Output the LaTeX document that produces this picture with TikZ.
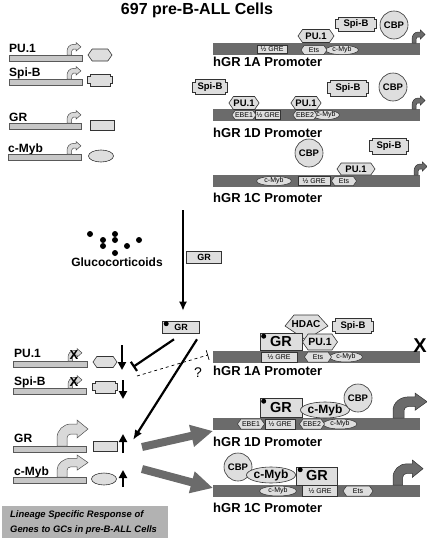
\documentclass[tikz,border=0pt]{standalone}
\usepackage{fontspec}
\setmainfont{Liberation Sans}
\usetikzlibrary{shapes.geometric,shapes.symbols,arrows.meta,calc}

% box with square notches at the corners (Spi-B)
\newdimen\nbl \newdimen\nbr \newdimen\nbb \newdimen\nbt \newdimen\nbn
\makeatletter
\pgfdeclareshape{notchbox}{%
  \inheritsavedanchors[from=rectangle]%
  \inheritanchorborder[from=rectangle]%
  \inheritanchor[from=rectangle]{center}%
  \inheritanchor[from=rectangle]{north}%
  \inheritanchor[from=rectangle]{south}%
  \inheritanchor[from=rectangle]{east}%
  \inheritanchor[from=rectangle]{west}%
  \inheritanchor[from=rectangle]{north east}%
  \inheritanchor[from=rectangle]{north west}%
  \inheritanchor[from=rectangle]{south east}%
  \inheritanchor[from=rectangle]{south west}%
  \backgroundpath{%
    \nbn=2.5pt
    \southwest \nbl=\pgf@x \nbb=\pgf@y
    \northeast \nbr=\pgf@x \nbt=\pgf@y
    \pgfpathmoveto{\pgfqpoint{\nbl}{\dimexpr\nbb+\nbn\relax}}%
    \pgfpathlineto{\pgfqpoint{\nbl}{\dimexpr\nbt-\nbn\relax}}%
    \pgfpathlineto{\pgfqpoint{\dimexpr\nbl+\nbn\relax}{\dimexpr\nbt-\nbn\relax}}%
    \pgfpathlineto{\pgfqpoint{\dimexpr\nbl+\nbn\relax}{\nbt}}%
    \pgfpathlineto{\pgfqpoint{\dimexpr\nbr-\nbn\relax}{\nbt}}%
    \pgfpathlineto{\pgfqpoint{\dimexpr\nbr-\nbn\relax}{\dimexpr\nbt-\nbn\relax}}%
    \pgfpathlineto{\pgfqpoint{\nbr}{\dimexpr\nbt-\nbn\relax}}%
    \pgfpathlineto{\pgfqpoint{\nbr}{\dimexpr\nbb+\nbn\relax}}%
    \pgfpathlineto{\pgfqpoint{\dimexpr\nbr-\nbn\relax}{\dimexpr\nbb+\nbn\relax}}%
    \pgfpathlineto{\pgfqpoint{\dimexpr\nbr-\nbn\relax}{\nbb}}%
    \pgfpathlineto{\pgfqpoint{\dimexpr\nbl+\nbn\relax}{\nbb}}%
    \pgfpathlineto{\pgfqpoint{\dimexpr\nbl+\nbn\relax}{\dimexpr\nbb+\nbn\relax}}%
    \pgfpathclose
  }%
}
\makeatother

\tikzset{
  genearrow/.pic={
    \begin{scope}[yscale=-1]
    \path[pic actions] (0,0) -- (0,8) arc[start angle=180,end angle=90,radius=14]
      -- (20,22) -- (20,26) -- (31,17) -- (20,8) -- (20,12) -- (14,12)
      arc[start angle=90,end angle=180,radius=4] -- (10,0) -- cycle;
    \end{scope}
  }
}

\begin{document}
\begin{tikzpicture}[x=1pt,y=-1pt,
  genebar/.style={draw=black!65, fill=black!22, line width=0.6pt},
  probar/.style={fill=black!58},
  prot/.style={draw=black!80, fill=black!13, line width=0.6pt, inner sep=0pt, font=\bfseries\fontsize{9.5}{10}\selectfont},
  site/.style={draw=black!80, fill=black!13, line width=0.5pt, inner sep=0pt, font=\fontsize{7}{7}\selectfont},
  hexa/.style={shape=signal, signal to=west and east, signal pointer angle=110},
  notch/.style={shape=notchbox},
  oval/.style={ellipse},
  ring/.style={circle, minimum size=28pt},
  gname/.style={font=\bfseries\fontsize{12}{12}\selectfont, anchor=base west, inner sep=0pt},
  pname/.style={font=\bfseries\fontsize{13}{13}\selectfont, anchor=base west, inner sep=0pt},
  lightarrow/.style={draw=black!70, fill=black!15, line width=0.5pt},
  darkarrow/.style={draw=black!80, fill=black!58, line width=0.5pt},
  fatarrow/.style={line width=8pt, draw=black!58, -{Triangle[length=22pt,width=21pt]}},
  trend/.style={line width=2.4pt, -{Triangle[length=8pt,width=8pt]}},
  ligand/.style={fill=black},
]
\useasboundingbox (0,0) rectangle (427,538);

\node[font=\bfseries\fontsize{16}{16}\selectfont] (title) at (197,10) {697 pre-B-ALL Cells};

% genes before GCs
\node[gname] (pu1lab) at (9,52) {PU.1};
\draw[genebar] (9,55) rectangle (82,61);
\pic[lightarrow, xscale=0.45, yscale=0.48] at (67,55) {genearrow};
\node[prot, hexa, minimum width=24pt, minimum height=12pt] (pu1prod) at (100,55) {};

\node[gname] (spblab) at (9,76) {Spi-B};
\draw[genebar] (9,79) rectangle (82,85);
\pic[lightarrow, xscale=0.45, yscale=0.48] at (67,79) {genearrow};
\node[prot, notch, minimum width=24pt, minimum height=11pt] (spbprod) at (100,80) {};

\node[gname] (grlab) at (9,121) {GR};
\draw[genebar] (9,123) rectangle (81,129);
\pic[lightarrow, xscale=0.45, yscale=0.48] at (67,123) {genearrow};
\node[prot, minimum width=24pt, minimum height=10pt] (grprod) at (102,125) {};

\node[gname] (myblab) at (8,152) {c-Myb};
\draw[genebar] (8,154) rectangle (81,160);
\pic[lightarrow, xscale=0.45, yscale=0.48] at (67,154) {genearrow};
\node[prot, oval, minimum width=25pt, minimum height=12pt] (mybprod) at (101,156) {};

% hGR 1A promoter
\fill[probar] (213,43) rectangle (420,55);
\node[site, minimum width=30pt, minimum height=8pt] (gre1a) at (272,49) {½ GRE};
\node[site, oval, minimum width=33pt, minimum height=9pt] (myb1a) at (342,50) {c-Myb};
\node[site, hexa, minimum width=26pt, minimum height=9pt] (ets1a) at (314,50) {Ets};
\node[prot, hexa, minimum width=36pt, minimum height=13pt] (pu1a) at (316,36) {PU.1};
\node[prot, notch, minimum width=40pt, minimum height=13pt] (spb1a) at (356,24) {Spi-B};
\node[prot, ring] (cbp1a) at (394,25) {CBP};
\pic[darkarrow, xscale=0.42, yscale=0.5] at (412,43) {genearrow};
\node[pname] (lab1a) at (213,66) {hGR 1A Promoter};

% hGR 1D promoter
\fill[probar] (213,109) rectangle (420,121);
\node[site, minimum width=25pt, minimum height=9pt] (gre1d) at (268,115) {½ GRE};
\node[site, hexa, minimum width=22pt, minimum height=9pt] (ebe1d) at (244,115) {EBE1};
\node[site, oval, minimum width=21pt, minimum height=9pt] (myb1d) at (326,115) {c-Myb};
\node[site, hexa, minimum width=21pt, minimum height=9pt] (ebe2d) at (305,115) {EBE2};
\node[prot, hexa, minimum width=29pt, minimum height=13pt] (pu1d1) at (244,103) {PU.1};
\node[prot, hexa, minimum width=29pt, minimum height=13pt] (pu1d2) at (306,103) {PU.1};
\node[prot, notch, minimum width=34pt, minimum height=14pt] (spb1d1) at (210,87) {Spi-B};
\node[prot, notch, minimum width=40pt, minimum height=15pt] (spb1d2) at (348,88) {Spi-B};
\node[prot, ring] (cbp1d) at (393,87) {CBP};
\pic[darkarrow, xscale=0.42, yscale=0.5] at (412,109) {genearrow};
\node[pname] (lab1d) at (213,137) {hGR 1D Promoter};

% hGR 1C promoter
\fill[probar] (213,175) rectangle (420,187);
\node[site, oval, minimum width=35pt, minimum height=9pt] (myb1c) at (274,181) {c-Myb};
\node[site, minimum width=32pt, minimum height=9pt] (gre1c) at (314,181) {½ GRE};
\node[site, hexa, minimum width=25pt, minimum height=9pt] (ets1c) at (344,181) {Ets};
\node[prot, hexa, minimum width=38pt, minimum height=12pt] (pu1c) at (356,169) {PU.1};
\node[prot, notch, minimum width=38pt, minimum height=15pt] (spb1c) at (389,146) {Spi-B};
\node[prot, ring] (cbp1c) at (309,153) {CBP};
\pic[darkarrow, xscale=0.42, yscale=0.5] at (414,175) {genearrow};
\node[pname] (lab1c) at (213,202) {hGR 1C Promoter};

% glucocorticoids
\foreach \p in {(90,234),(103,240),(103,246),(115,234),(115,240),(127,246),(139,240),(115,253)}
  \fill[ligand] \p circle[radius=3];
\node[font=\bfseries\fontsize{12}{12}\selectfont] (gc) at (117,262) {Glucocorticoids};
\node[prot, minimum width=35pt, minimum height=12pt, font=\bfseries\fontsize{9}{9}\selectfont] (grfree) at (204,257) {GR};
\node[prot, minimum width=37pt, minimum height=12pt, font=\bfseries\fontsize{9}{9}\selectfont] (gract) at (181,327) {GR};
\fill[ligand] ($(gract.north west)+(4,3)$) circle[radius=2.5];

\coordinate (gcstart) at (183,210);
\draw[line width=1.6pt, -{Latex[length=9pt,width=8pt]}, shorten >=10pt] (gcstart) -- (gcstart |- gract.north);

% genes after GCs
\node[gname] (pu1lab2) at (14,357) {PU.1};
\draw[genebar] (13,361) rectangle (87,367);
\pic[lightarrow, xscale=0.45, yscale=0.48] at (68,361) {genearrow};
\node[font=\bfseries\fontsize{13}{13}\selectfont, inner sep=0pt] (pu1x) at (74,355) {X};
\node[prot, hexa, minimum width=24pt, minimum height=11pt] (pu1low) at (105,362) {};
\draw[trend] (122,345) -- (122,370);

\node[gname] (spblab2) at (14,385) {Spi-B};
\draw[genebar] (13,388) rectangle (86,394);
\pic[lightarrow, xscale=0.45, yscale=0.48] at (68,388) {genearrow};
\node[font=\bfseries\fontsize{13}{13}\selectfont, inner sep=0pt] (spbx) at (74,382) {X};
\node[prot, notch, minimum width=24pt, minimum height=11pt] (spblow) at (105,387) {};
\draw[trend] (123,380) -- (123,399);

\node[gname] (grlab2) at (14,442) {GR};
\draw[genebar] (13,446) rectangle (86,452);
\pic[lightarrow, xscale=1, yscale=1] at (57,446) {genearrow};
\node[prot, minimum width=24pt, minimum height=10pt] (grhigh) at (105,446) {};
\draw[trend] (123,453) -- (123,434);

\node[gname] (myblab2) at (14,475) {c-Myb};
\draw[genebar] (13,477) rectangle (86,483);
\pic[lightarrow, xscale=1, yscale=0.85] at (57,477) {genearrow};
\node[prot, oval, minimum width=25pt, minimum height=12pt] (mybhigh) at (104,479) {};
\draw[trend] (123,487) -- (123,470);

% GR effects
\coordinate (inhend) at (133,367);
\coordinate (actend) at (133,440);
\coordinate (qstart) at (137,376);
\coordinate (qend) at (208,355);
\draw[line width=2.2pt, -{Bar[width=11pt]}] ($(gract.south)+(-7,6)$) -- (inhend);
\draw[line width=2.2pt, -{Latex[length=10pt,width=8pt]}] ($(gract.south)+(16,6)$) -- (actend);
\draw[line width=0.7pt, dashed, -{Bar[width=10pt]}] (qstart) -- (qend);
\node[font=\fontsize{14}{14}\selectfont] (qmark) at (198,373) {?};

\coordinate (fat1a) at (142,447);
\coordinate (fat1b) at (213,431);
\coordinate (fat2a) at (142,469);
\coordinate (fat2b) at (213,488);
\draw[fatarrow] (fat1a) -- (fat1b);
\draw[fatarrow] (fat2a) -- (fat2b);

% hGR 1A promoter repressed
\fill[probar] (213,351) rectangle (420,363);
\node[site, minimum width=36pt, minimum height=10pt] (gre1ab) at (279,357) {½ GRE};
\node[site, oval, minimum width=33pt, minimum height=10pt] (myb1ab) at (346,357) {c-Myb};
\node[site, hexa, minimum width=27pt, minimum height=10pt] (ets1ab) at (318,357) {Ets};
\draw[prot] (294,315) -- (318,315) -- (328,326) -- (306,340) -- (285,326) -- cycle;
\node[font=\bfseries\fontsize{10}{10}\selectfont] (hdac) at (306,324) {HDAC};
\node[prot, minimum width=42pt, minimum height=17pt, font=\bfseries\fontsize{14.5}{15}\selectfont] (gr1ab) at (281,342) {GR};
\fill[ligand] ($(gr1ab.north west)+(4,3)$) circle[radius=2.5];
\node[prot, hexa, minimum width=35pt, minimum height=16pt, font=\bfseries\fontsize{10.5}{11}\selectfont] (pu1ab) at (320,342) {PU.1};
\node[prot, notch, minimum width=40pt, minimum height=14pt] (spb1ab) at (353,326) {Spi-B};
\node[font=\bfseries\fontsize{20}{20}\selectfont, inner sep=0pt] (off1a) at (420,346) {X};
\node[pname] (lab1ab) at (213,375) {hGR 1A Promoter};

% hGR 1D promoter active
\fill[probar] (213,418) rectangle (420,430);
\node[site, minimum width=30pt, minimum height=10pt] (gre1db) at (280,424) {½ GRE};
\node[site, hexa, minimum width=27pt, minimum height=10pt] (ebe1db) at (251,424) {EBE1};
\node[site, oval, minimum width=34pt, minimum height=10pt] (myb1db) at (340,424) {c-Myb};
\node[site, hexa, minimum width=25pt, minimum height=10pt] (ebe2db) at (312,424) {EBE2};
\node[prot, minimum width=42pt, minimum height=19pt, font=\bfseries\fontsize{14.5}{15}\selectfont] (gr1db) at (281,408) {GR};
\fill[ligand] ($(gr1db.north west)+(4,3)$) circle[radius=2.5];
\node[prot, oval, minimum width=45pt, minimum height=16pt, font=\bfseries\fontsize{12}{12}\selectfont] (mybbig1d) at (325,410) {c-Myb};
\node[prot, ring] (cbp1db) at (358,398) {CBP};
\pic[darkarrow, xscale=1.1, yscale=0.96] at (393,418) {genearrow};
\node[pname] (lab1db) at (213,446) {hGR 1D Promoter};

% hGR 1C promoter active
\fill[probar] (213,485) rectangle (420,497);
\node[site, oval, minimum width=37pt, minimum height=10pt] (myb1cb) at (278,491) {c-Myb};
\node[site, minimum width=35pt, minimum height=11pt] (gre1cb) at (320,491) {½ GRE};
\node[site, hexa, minimum width=30pt, minimum height=10pt] (ets1cb) at (358,491) {Ets};
\node[prot, ring] (cbp1cb) at (238,467) {CBP};
\node[prot, oval, minimum width=47pt, minimum height=16pt, font=\bfseries\fontsize{12}{12}\selectfont] (mybbig1c) at (271,475) {c-Myb};
\node[prot, minimum width=41pt, minimum height=18pt, font=\bfseries\fontsize{14.5}{15}\selectfont] (gr1cb) at (317,476) {GR};
\fill[ligand] ($(gr1cb.north west)+(4,3)$) circle[radius=2.5];
\pic[darkarrow, xscale=0.97, yscale=0.96] at (393,485) {genearrow};
\node[pname] (lab1cb) at (213,512) {hGR 1C Promoter};

% legend box
\fill[black!30] (2,506) rectangle (168,538);
\node[anchor=north west, inner sep=0pt, align=left, font=\bfseries\itshape\fontsize{9.4}{15.5}\selectfont] (legend) at (10,510) {Lineage Specific Response of\\Genes to GCs in pre-B-ALL Cells};
\end{tikzpicture}
\end{document}
